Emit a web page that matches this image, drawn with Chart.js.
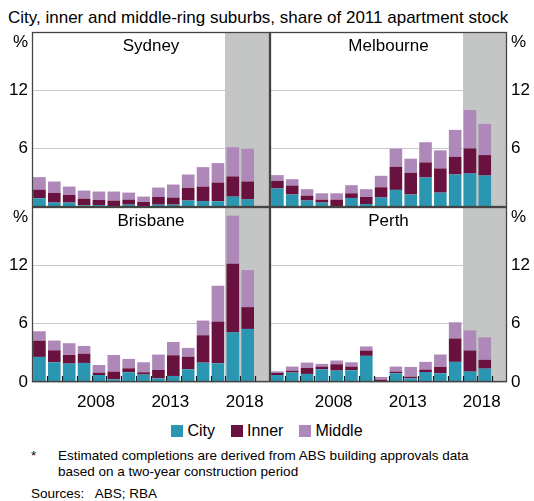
<!DOCTYPE html>
<html>
<head>
<meta charset="utf-8">
<script src="https://cdn.jsdelivr.net/npm/chart.js@4.4.1/dist/chart.umd.min.js"></script>
<style>
  html, body { margin:0; padding:0; background:#fff; }
  body { width:534px; height:501px; position:relative; overflow:hidden; font-family:"Liberation Sans", Arial, sans-serif; color:#000; }
  canvas { position:absolute; }
  .txt { position:absolute; white-space:nowrap; }
  #sub { left:8px; top:8px; font-size:17px; }
  #legend { position:absolute; left:0; width:534px; top:422px; display:flex; justify-content:center; font-size:16px; line-height:18px; }
  .li { display:flex; align-items:center; margin:0 8px; }
  .sw { width:12px; height:12px; margin-right:4px; }
  #note1 { left:31px; top:448px; font-size:13.5px; }
  #note2 { left:58px; top:448px; font-size:13.5px; line-height:16px; }
  #src { left:31px; top:486px; font-size:13.5px; }
</style>
</head>
<body>
<div class="txt" id="sub">City, inner and middle-ring suburbs, share of 2011 apartment stock</div>
<canvas id="c1" width="285" height="210" style="left:0px;top:12px;width:285px;height:210px"></canvas>
<canvas id="c2" width="279" height="210" style="left:255px;top:12px;width:279px;height:210px"></canvas>
<canvas id="c3" width="285" height="230" style="left:0px;top:187px;width:285px;height:230px"></canvas>
<canvas id="c4" width="279" height="230" style="left:255px;top:187px;width:279px;height:230px"></canvas>
<div id="legend">
  <div class="li"><div class="sw" style="background:#2b96b1"></div>City</div>
  <div class="li"><div class="sw" style="background:#69123f"></div>Inner</div>
  <div class="li"><div class="sw" style="background:#ae88b9"></div>Middle</div>
</div>
<div class="txt" id="note1">*</div>
<div class="txt" id="note2">Estimated completions are derived from ABS building approvals data<br>based on a two-year construction period</div>
<div class="txt" id="src">Sources:&nbsp;&nbsp; ABS; RBA</div>
<script>
// ---- data ----
const years = ['2004','2005','2006','2007','2008','2009','2010','2011','2012','2013','2014','2015','2016','2017','2018','2019'];
const tickYears = ['2008','2013','2018'];
const forecastStart = '2017';
const seriesNames = ['City','Inner','Middle'];

const sydneyCity   = [0.90,0.45,0.45,0.17,0.20,0.05,0.24,0.05,0.24,0.24,0.66,0.62,0.59,1.07,0.79];
const sydneyInner  = [0.89,1.00,0.79,0.69,0.52,0.61,0.52,0.47,0.79,0.73,1.31,1.48,1.93,2.07,1.83];
const sydneyMiddle = [1.28,1.17,0.86,0.83,0.87,0.93,0.72,0.55,0.97,1.34,1.37,2.00,2.00,3.00,3.38];

const melbCity   = [1.90,1.28,0.66,0.45,0.03,0.93,0.31,0.97,1.76,1.28,3.03,1.48,3.34,3.45,3.24];
const melbInner  = [0.79,0.93,0.51,0.31,0.73,0.48,0.72,1.06,2.38,2.24,1.56,2.49,1.83,2.58,2.10];
const melbMiddle = [0.59,0.65,0.66,0.65,0.65,0.83,0.80,1.18,1.86,1.45,2.07,1.86,2.76,3.94,3.21];

const brisCity   = [2.58,2.03,1.89,1.96,0.72,0.27,1.00,0.76,0.38,0.62,1.31,1.99,1.92,5.12,5.46];
const brisInner  = [1.68,1.23,0.89,0.96,0.24,0.80,0.41,0.24,0.86,2.13,1.30,2.82,4.30,7.04,2.24];
const brisMiddle = [0.96,1.00,1.21,0.79,0.79,1.71,0.96,1.03,1.58,1.37,0.90,1.51,3.68,4.95,3.81];

const perthCity   = [0.72,0.97,0.83,1.31,1.17,1.21,2.69,0.07,0.90,0.38,1.03,0.90,2.07,1.07,1.38];
const perthInner  = [0.21,0.20,0.62,0.28,0.66,0.38,0.55,0.17,0.17,0.17,0.25,0.65,2.41,2.17,0.90];
const perthMiddle = [0.17,0.42,0.55,0.27,0.38,0.44,0.42,0.28,0.52,1.00,0.79,1.28,1.66,2.07,2.31];

const yTicksTop = [6, 12];
const yTicksBottom = [0, 6, 12];
const yMax = 18;

// ---- styles ----
const COLORS = ['#2b96b1', '#69123f', '#ae88b9'];
const FONT = '"Liberation Sans", Arial, sans-serif';
Chart.defaults.font.family = FONT;
Chart.defaults.color = '#000';

const panelPlugin = {
  id: 'panel',
  beforeDatasetsDraw(chart) {
    const {ctx, chartArea: a, scales: {x}} = chart;
    const i = years.indexOf(forecastStart);
    const xs = Math.round((x.getPixelForValue(i - 1) + x.getPixelForValue(i)) / 2);
    ctx.save();
    ctx.fillStyle = '#c4c6c6';
    ctx.fillRect(xs, a.top, a.right - xs, a.bottom - a.top);
    ctx.restore();
  },
  afterDatasetsDraw(chart, args, o) {
    const {ctx, chartArea: a, scales: {x}} = chart;
    ctx.save();
    if (o.ticks) {
      ctx.strokeStyle = '#1a1a1a';
      ctx.lineWidth = 1.2;
      ctx.beginPath();
      for (let i = 1; i < years.length; i++) {
        const px = Math.round((x.getPixelForValue(i - 1) + x.getPixelForValue(i)) / 2) + 0.5;
        ctx.moveTo(px, a.bottom);
        ctx.lineTo(px, a.bottom - 6);
      }
      ctx.stroke();
    }
    ctx.strokeStyle = '#444';
    ctx.lineWidth = 1.3;
    ctx.strokeRect(a.left + 0.5, a.top + 0.5, a.right - a.left - 1, a.bottom - a.top - 1);
    ctx.fillStyle = '#000';
    ctx.font = '17px ' + FONT;
    ctx.textAlign = 'center';
    ctx.textBaseline = 'middle';
    ctx.fillText(o.title, (a.left + a.right) / 2, a.top + 14);
    ctx.font = '17px ' + FONT;
    if (o.side === 'left') {
      ctx.textAlign = 'right';
      ctx.fillText('%', a.left - 4, a.top + 10);
    } else {
      ctx.textAlign = 'left';
      ctx.fillText('%', a.right + 4, a.top + 10);
    }
    ctx.restore();
  }
};

function makeChart(id, title, city, inner, middle, side, bottom) {
  const datasets = [city, inner, middle].map((d, k) => ({
    label: seriesNames[k],
    data: d,
    backgroundColor: COLORS[k],
    borderWidth: 0,
    barPercentage: 0.85,
    categoryPercentage: 1.0,
  }));
  const showTicks = bottom ? yTicksBottom : yTicksTop;
  const padding = side === 'left'
    ? {top: 20, right: 15, left: 0, bottom: bottom ? 0 : 15}
    : {top: 20, right: 0, left: 15, bottom: bottom ? 0 : 15};
  return new Chart(document.getElementById(id), {
    type: 'bar',
    data: {labels: years, datasets},
    plugins: [panelPlugin],
    options: {
      responsive: false,
      animation: false,
      events: [],
      layout: {padding},
      plugins: {
        legend: {display: false},
        tooltip: {enabled: false},
        panel: {title, side, ticks: bottom},
      },
      scales: {
        x: {
          stacked: true,
          offset: true,
          grid: {display: false, drawTicks: false},
          border: {display: false},
          ticks: {
            display: bottom,
            autoSkip: false,
            maxRotation: 0,
            padding: 10,
            labelOffset: -3,
            font: {size: 17},
            color: '#000',
            callback: function(v, i) { const l = years[i]; return tickYears.includes(l) ? l : ''; }
          },
          afterFit: s => { s.height = bottom ? 35 : 0; }
        },
        y: {
          stacked: true,
          position: side,
          min: 0, max: yMax,
          afterBuildTicks: s => { s.ticks = showTicks.map(v => ({value: v})); },
          grid: {color: '#c8c8c8', lineWidth: 1, drawTicks: false},
          border: {display: false},
          ticks: {font: {size: 17}, color: '#000', padding: 4},
          afterFit: s => { s.width = side === 'left' ? 32 : 27; }
        }
      }
    }
  });
}

makeChart('c1', 'Sydney', sydneyCity, sydneyInner, sydneyMiddle, 'left', false);
makeChart('c2', 'Melbourne', melbCity, melbInner, melbMiddle, 'right', false);
makeChart('c3', 'Brisbane', brisCity, brisInner, brisMiddle, 'left', true);
makeChart('c4', 'Perth', perthCity, perthInner, perthMiddle, 'right', true);
</script>
</body>
</html>
